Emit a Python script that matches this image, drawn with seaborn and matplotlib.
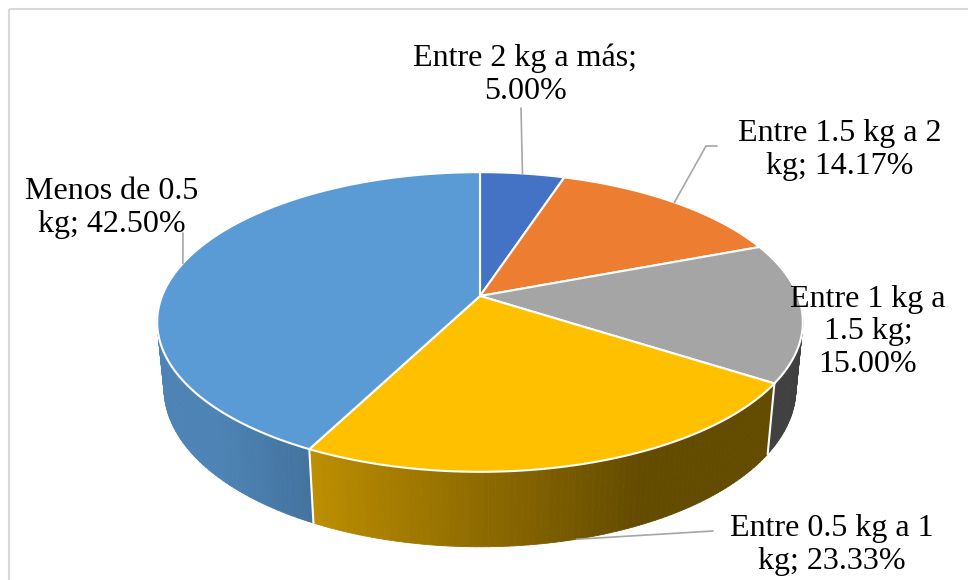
"""
plot.py
3D-style pie chart of weight categories (percentages)
"""

import textwrap
import numpy as np
import matplotlib
matplotlib.use('Agg')
import matplotlib.pyplot as plt
from matplotlib.patches import Polygon, Rectangle
import seaborn as sns

# ---- data ----
categories = ['Entre 2 kg a más', 'Entre 1.5 kg a 2 kg', 'Entre 1 kg a 1.5 kg',
              'Entre 0.5 kg a 1 kg', 'Menos de 0.5 kg']
percentages = [5.00, 14.17, 15.00, 23.33, 42.50]
slice_colors = ['#4472C4', '#ED7D31', '#A5A5A5', '#FFC000', '#5B9BD5']

# ---- label layout (wrap width, text centre, leader line end points) ----
wrap_width = [17, 16, 12, 16, 12]
label_pos = [(525, 75), (840, 150), (868, 332), (832, 545), (112, 208)]
leader_pts = [[(521, 108)], [(706, 146), (717, 146)], None,
              [(713, 531)], [(183, 233)]]

# ---- perspective projection of the pie disc ----
CX, CY = 480, 296
F, D = 1631.0, 5.13
ELEV = np.radians(27.2)
H = 0.238


def project(phi_deg, r=1.0, z=0.0):
    """phi measured clockwise from 12 o'clock; returns screen px."""
    phi = np.radians(phi_deg)
    X = r * np.sin(phi)
    Y = r * np.cos(phi)
    den = D + Y * np.cos(ELEV) - z * np.sin(ELEV)
    sx = CX + F * X / den
    sy = CY - F * (Y * np.sin(ELEV) + z * np.cos(ELEV)) / den
    return sx, sy, den


def shade(phi_deg):
    X = np.sin(np.radians(phi_deg))
    return float(np.clip(0.56 - 0.40 * X, 0.39, 0.85))


sns.set_theme(style='white')
plt.rcParams['font.family'] = ['Liberation Serif', 'DejaVu Serif']
palette = sns.color_palette(slice_colors)

fig = plt.figure(figsize=(9.68, 5.8), dpi=100)
ax = fig.add_axes([0, 0, 1, 1])
ax.set_xlim(0, 968)
ax.set_ylim(580, 0)
ax.axis('off')

ax.add_patch(Rectangle((9, 9), 1000, 1000, fill=False, edgecolor='#d9d9d9',
                       linewidth=1.5, zorder=0))

angles = np.concatenate([[0], np.cumsum(percentages) / 100 * 360])

# side wall, split in thin strips for the gradient
quads = []
for i, col in enumerate(palette):
    a0, a1 = angles[i], angles[i + 1]
    steps = np.linspace(a0, a1, max(int((a1 - a0) / 1.0), 2) + 1)
    for p, q in zip(steps[:-1], steps[1:]):
        x1, y1, d1 = project(p)
        x2, y2, d2 = project(q)
        x3, y3, _ = project(q, z=-H)
        x4, y4, _ = project(p, z=-H)
        f = shade((p + q) / 2)
        c = tuple(np.array(col) * f)
        quads.append(((d1 + d2) / 2, [(x1, y1), (x2, y2), (x3, y3), (x4, y4)], c))
quads.sort(key=lambda t: -t[0])
for _, pts, c in quads:
    ax.add_patch(Polygon(pts, closed=True, facecolor=c, edgecolor=c,
                         linewidth=0.6, zorder=1))

# white edges between wall segments
for a in angles[:-1]:
    x1, y1, _ = project(a)
    x2, y2, _ = project(a, z=-H)
    ax.plot([x1, x2], [y1, y2], color='white', linewidth=1.5, zorder=2)

# top faces
for i, col in enumerate(palette):
    a0, a1 = angles[i], angles[i + 1]
    steps = np.linspace(a0, a1, max(int(a1 - a0), 2) + 1)
    pts = [(CX, CY)] + [project(p)[:2] for p in steps]
    ax.add_patch(Polygon(pts, closed=True, facecolor=col, edgecolor='white',
                         linewidth=1.5, joinstyle='round', zorder=3))

# labels and leader lines
for i in range(len(categories)):
    text = textwrap.fill(f'{categories[i]}; {percentages[i]:.2f}%', width=wrap_width[i])
    ax.text(label_pos[i][0], label_pos[i][1], text, ha='center', va='center',
            fontsize=23, color='black', linespacing=1.18, zorder=5)
    if leader_pts[i] is None:
        continue
    mid = (angles[i] + angles[i + 1]) / 2
    if np.cos(np.radians(mid)) < 0:
        ax0, ay0, _ = project(mid, z=-H)
    else:
        ax0, ay0, _ = project(mid)
    xs = [ax0] + [p[0] for p in leader_pts[i]]
    ys = [ay0] + [p[1] for p in leader_pts[i]]
    ax.plot(xs, ys, color='#a6a6a6', linewidth=1.2, zorder=4)

plt.savefig('out.png', dpi=100)
plt.close()
